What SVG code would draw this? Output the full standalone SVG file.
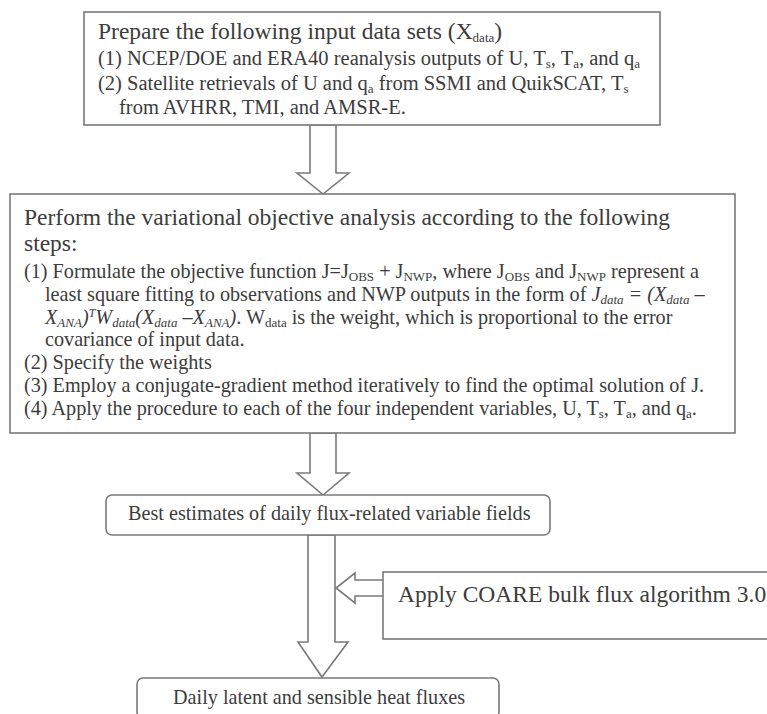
<svg xmlns="http://www.w3.org/2000/svg" width="767" height="714" viewBox="0 0 767 714">
<style>
.box{fill:#fff;stroke:#7a7a7a;stroke-width:1.6}
.arr{fill:#fff;stroke:#7a7a7a;stroke-width:1.6;stroke-linejoin:miter}
text{font-family:"Liberation Serif","Times New Roman",serif;fill:#3c3c3c}
.h{font-size:23.5px}
.b{font-size:20.5px}
.c{font-size:20.2px}
.s{font-size:13px;baseline-shift:-3px}
.sup{font-size:12px;baseline-shift:7px}
.i{font-style:italic}
</style>
<rect width="767" height="714" fill="#fff"/>
<g id="connectors">
<polygon class="arr" points="310,125 310,173 297,173 323,194 349,173 336,173 336,125"/>
<polygon class="arr" points="310,433 310,473 297,473 323,495 349,473 336,473 336,433"/>
<polygon class="arr" points="308,535 308,642 298,642 322,677 348,642 335,642 335,535"/>
<polyline class="arr" points="383,580 355,580 355,573 336,588 355,603 355,596 383,596"/>
</g>
<g id="node-input">
<rect class="box" x="84" y="12" width="576" height="113"/>
<text class="h" x="98" y="39">Prepare the following input data sets (X<tspan class="s">data</tspan>)</text>
<text class="b" x="98" y="65">(1) NCEP/DOE and ERA40 reanalysis outputs of U, T<tspan class="s">s</tspan>, T<tspan class="s">a</tspan>, and q<tspan class="s">a</tspan></text>
<text class="b" x="98" y="90">(2) Satellite retrievals of U and q<tspan class="s">a</tspan> from SSMI and QuikSCAT, T<tspan class="s">s</tspan></text>
<text class="b" x="119" y="114">from AVHRR, TMI, and AMSR-E.</text>
</g>
<g id="node-analysis">
<rect class="box" x="10" y="194" width="725" height="239"/>
<text class="h" x="24" y="225">Perform the variational objective analysis according to the following</text>
<text class="h" x="24" y="251">steps:</text>
<text class="c" x="24" y="278">(1) Formulate the objective function J=J<tspan class="s">OBS</tspan> + J<tspan class="s">NWP</tspan>, where J<tspan class="s">OBS</tspan> and J<tspan class="s">NWP</tspan> represent a</text>
<text class="c" x="45" y="301">least square fitting to observations and NWP outputs in the form of <tspan class="i">J<tspan class="s">data</tspan> = (X<tspan class="s">data</tspan> –</tspan></text>
<text class="c" x="45" y="324"><tspan class="i">X<tspan class="s">ANA</tspan>)<tspan class="sup">T</tspan>W<tspan class="s">data</tspan>(X<tspan class="s">data</tspan> –X<tspan class="s">ANA</tspan>)</tspan>. W<tspan class="s">data</tspan> is the weight, which is proportional to the error</text>
<text class="c" x="45" y="346">covariance of input data.</text>
<text class="c" x="24" y="369">(2) Specify the weights</text>
<text class="c" x="24" y="392">(3) Employ a conjugate-gradient method iteratively to find the optimal solution of J.</text>
<text class="c" x="24" y="415">(4) Apply the procedure to each of the four independent variables, U, T<tspan class="s">s</tspan>, T<tspan class="s">a</tspan>, and q<tspan class="s">a</tspan>.</text>
</g>
<g id="node-estimates">
<rect class="box" x="106" y="495" width="444" height="40" rx="6"/>
<text class="c" x="128" y="520">Best estimates of daily flux-related variable fields</text>
</g>
<g id="node-coare">
<rect class="box" x="383" y="572" width="400" height="67"/>
<text class="h" x="398" y="602">Apply COARE bulk flux algorithm 3.0</text>
</g>
<g id="node-fluxes">
<rect class="box" x="137" y="678" width="362" height="40" rx="6"/>
<text class="c" x="173" y="704">Daily latent and sensible heat fluxes</text>
</g>
</svg>
